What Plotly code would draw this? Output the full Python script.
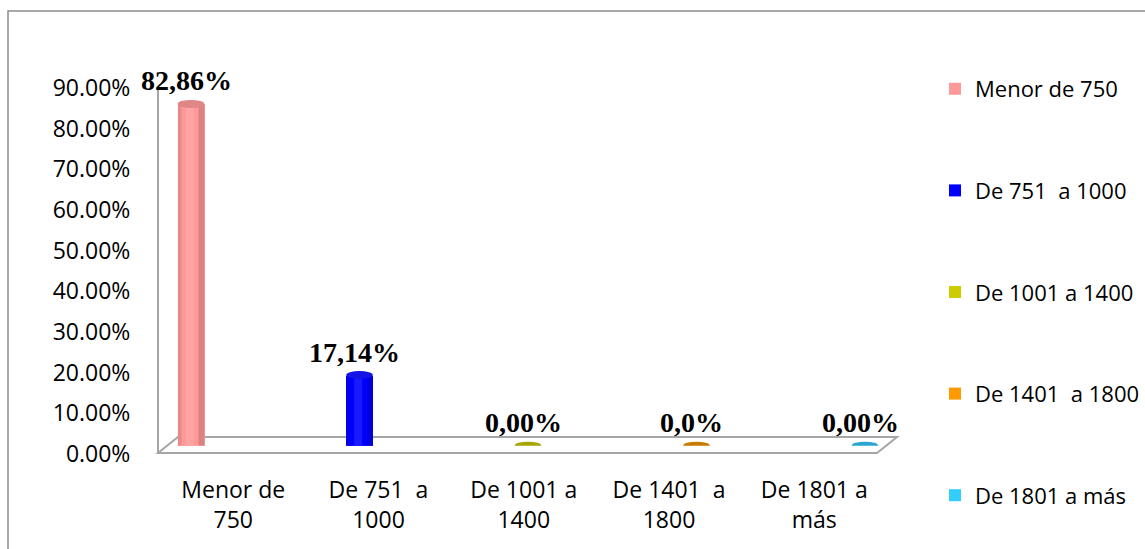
import plotly.graph_objects as go

# ---- data ----
categories = ["Menor de 750", "De 751  a 1000", "De 1001 a 1400", "De 1401  a 1800", "De 1801 a más"]
axis_labels = ["Menor de<br>750", "De 751  a<br>1000", "De 1001 a<br>1400", "De 1401  a<br>1800", "De 1801 a<br>más"]
values = [0.8286, 0.1714, 0.0, 0.0, 0.0]
value_labels = ["82,86%", "17,14%", "0,00%", "0,0%", "0,00%"]
y_ticks = [0.0, 0.1, 0.2, 0.3, 0.4, 0.5, 0.6, 0.7, 0.8, 0.9]
y_tick_labels = ["0.00%", "10.00%", "20.00%", "30.00%", "40.00%", "50.00%",
                 "60.00%", "70.00%", "80.00%", "90.00%"]

# ---- style ----
colors = ["#FF9999", "#0000FF", "#CCCC00", "#FF9900", "#33CCFF"]
top_colors = ["#E08686", "#1414E6", "#A6A600", "#C97A00", "#2AA6D2"]
W, H = 1145, 549
FONT = "Open Sans"
FS = 23
LFS = 22


def px(x):
    return x / W


def py(y):
    return 1 - y / H


BAR_W = 0.158
ELL_H = 0.0098

fig = go.Figure()
for i, (cat, v) in enumerate(zip(categories, values)):
    fig.add_trace(go.Bar(
        x=[cat], y=[v], name=cat, legendgroup=cat, width=BAR_W,
        marker=dict(color=colors[i], line=dict(width=0)),
        xaxis="x", yaxis="y2", hoverinfo="skip",
    ))

# invisible trace to carry the category label axis
fig.add_trace(go.Scatter(x=list(range(len(categories))), y=[None] * len(categories),
                         xaxis="x2", yaxis="y", showlegend=False, hoverinfo="skip"))

shapes = []
# outer chart border
shapes.append(dict(type="rect", xref="paper", yref="paper",
                   x0=px(8), x1=px(1160), y0=py(570), y1=py(11),
                   line=dict(color="#8C8C8C", width=1.5), layer="below"))
# 3D floor
floor = "M {} {} L {} {} L {} {} L {} {} Z".format(
    px(158), py(453), px(877), py(453), px(897), py(437), px(178), py(437))
shapes.append(dict(type="path", xref="paper", yref="paper", path=floor,
                   line=dict(color="#A6A6A6", width=2), fillcolor="white", layer="below"))

for i, v in enumerate(values):
    if v > 0:
        # bottom cap
        shapes.append(dict(type="circle", xref="x", yref="y2",
                           x0=i - BAR_W / 2, x1=i + BAR_W / 2, y0=-ELL_H, y1=ELL_H,
                           fillcolor=colors[i], line=dict(width=0)))
        # shading strips
        shapes.append(dict(type="rect", xref="x", yref="y2",
                           x0=i - BAR_W / 2, x1=i - BAR_W / 2 + BAR_W * 0.14, y0=0, y1=v,
                           fillcolor="black", opacity=0.10, line=dict(width=0)))
        shapes.append(dict(type="rect", xref="x", yref="y2",
                           x0=i + BAR_W / 2 - BAR_W * 0.22, x1=i + BAR_W / 2, y0=0, y1=v,
                           fillcolor="black", opacity=0.14, line=dict(width=0)))
        shapes.append(dict(type="rect", xref="x", yref="y2",
                           x0=i - BAR_W * 0.2, x1=i + BAR_W * 0.1, y0=0, y1=v,
                           fillcolor="white", opacity=0.10, line=dict(width=0)))
    # top cap
    shapes.append(dict(type="circle", xref="x", yref="y2",
                       x0=i - BAR_W / 2, x1=i + BAR_W / 2, y0=v - ELL_H, y1=v + ELL_H,
                       fillcolor=top_colors[i], line=dict(width=0)))

annotations = []
for i, (cat, v, lab) in enumerate(zip(categories, values, value_labels)):
    annotations.append(dict(x=cat, y=v, xref="x", yref="y2", text="<b>" + lab + "</b>",
                            showarrow=False, yshift=23, xshift=-5,
                            font=dict(family="Liberation Serif", size=28, color="black")))

fig.update_layout(
    width=W, height=H, autosize=False,
    margin=dict(l=0, r=0, t=0, b=0, pad=0),
    paper_bgcolor="white", plot_bgcolor="rgba(0,0,0,0)",
    barmode="overlay", bargap=0,
    font=dict(family=FONT, size=FS, color="black"),
    showlegend=True,
    legend=dict(x=px(935), y=py(292), xanchor="left", yanchor="middle",
                font=dict(family=FONT, size=LFS, color="black"),
                tracegroupgap=70, bgcolor="rgba(0,0,0,0)", itemclick=False,
                itemdoubleclick=False),
    xaxis=dict(domain=[px(106.75), px(949.25)], type="category",
               categoryorder="array", categoryarray=categories,
               range=[-0.5, len(categories) - 0.5], anchor="y2", visible=False,
               automargin=False),
    yaxis2=dict(domain=[py(445.7), py(74.5)], range=[0, 0.9], anchor="x", visible=False,
                automargin=False),
    yaxis=dict(domain=[py(454), py(88)], range=[0, 0.9], anchor="free", position=px(158),
               tickmode="array", tickvals=y_ticks, ticktext=y_tick_labels,
               showgrid=False, zeroline=False, showline=True, linecolor="#A6A6A6",
               linewidth=2, ticks="", ticklabelstandoff=22, automargin=False,
               tickfont=dict(family=FONT, size=FS, color="black")),
    xaxis2=dict(domain=[px(160.6), px(886.9)], range=[-0.5, len(categories) - 0.5],
                anchor="y", tickmode="array", tickvals=list(range(len(categories))),
                ticktext=axis_labels, showgrid=False, zeroline=False, showline=False,
                ticks="", ticklabelstandoff=20, automargin=False,
                tickfont=dict(family=FONT, size=FS, color="black")),
    shapes=shapes,
    annotations=annotations,
)

fig.write_html("out.html", config={"displayModeBar": False},
               post_script="document.body.style.margin='0';document.body.style.overflow='hidden';")
